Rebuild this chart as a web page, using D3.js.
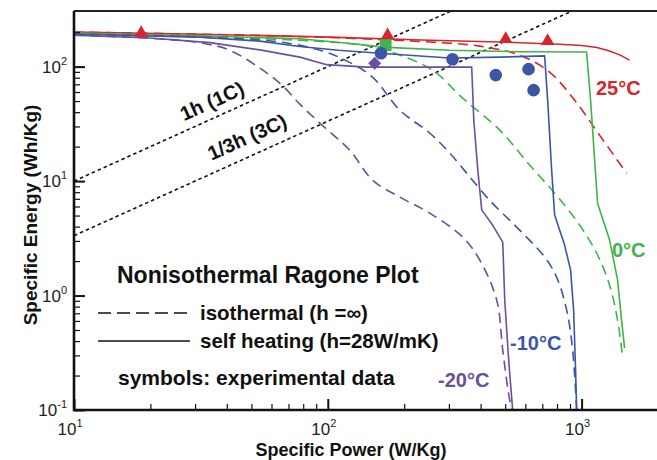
<!DOCTYPE html>
<html>
<head>
<meta charset="utf-8">
<script src="https://cdn.jsdelivr.net/npm/d3@7"></script>
<style>
  body { margin: 0; background: #fff; }
  text { font-family: "Liberation Sans", Arial, sans-serif; }
</style>
</head>
<body>
<svg id="ragone" width="657" height="460"></svg>
<script>
// data: [specific power W/Kg, specific energy Wh/Kg]
var red_iso = [[10,200],[49.3,188],[122,177],[252,164],[397,151],[570,126],[748,89.5],[938,51],[1177,25.2],[1504,11.7]];
var red_heat = [[10,200],[31.3,192],[102,181],[252,170],[476,164],[819,157],[1000,153],[1150,147],[1289,137],[1420,126],[1545,114]];
var green_iso = [[10,196],[49.3,177],[102,164],[146,151],[192,126],[259,93],[340,53],[476,27.9],[624,13.8],[797,7.5],[982,4.13],[1156,2.26],[1289,1.23],[1386,0.61],[1450,0.29]];
var green_heat = [[10,196],[31.3,186],[77.6,175],[120,160],[165,148],[302,139],[570,135],[1046,134],[1085,51],[1156,6.4],[1289,3.05],[1386,1.37],[1437,0.61],[1477,0.348]];
var blue_iso = [[10,192],[31.3,181],[64.7,164],[93,139],[117,114],[150,81],[192,41.7],[252,26.3],[302,17.6],[434,6.8],[570,3.73],[715,2.17],[797,1.45],[873,0.75],[922,0.334],[956,0.1]];
var blue_heat = [[10,192],[31.3,181],[54,167],[77.6,150],[110,139],[160,131],[302,119],[476,121],[715,124],[735,51],[762,12.5],[783,5.05],[857,2.76],[905,1.67],[930,0.75],[947,0.224],[956,0.1]];
var purple_iso = [[10,188],[19.9,177],[32.2,160],[41.1,139],[54,97],[65.9,69],[77.6,47],[93,32.1],[122,18.6],[150,10.2],[192,7.25],[252,5.25],[340,3.24],[397,2.04],[463,0.91],[489,0.334],[521,0.122],[535,0.1]];
var purple_heat = [[10,188],[19.9,178],[34.3,162],[54,140],[77.6,121],[99,104],[142,99],[369,99],[376,34.1],[390,12.5],[404,5.6],[446,4.13],[489,2.93],[498,0.91],[516,0.273],[535,0.1]];

var red_pts = [[18.4,196],[172,188],[502,174],[735,167]];
var green_pts = [[169,154]];
var blue_pts = [[162,131],[310,116],[459,84.3],[618,95],[647,62.3]];
var purple_pts = [[153,107]];

var temps = ["25°C", "0°C", "-10°C", "-20°C"];
var colors = ["#d7262b", "#3db54a", "#3c56a5", "#6b4fa0"];
var rate_hours = [1, 1/3];
var rate_labels = ["1h (1C)", "1/3h (3C)"];
var x_ticks = [10, 100, 1000];
var x_exps = ["1", "2", "3"];
var y_ticks = [0.1, 1, 10, 100];
var y_exps = ["-1", "0", "1", "2"];

var svg = d3.select("#ragone");

var x = d3.scaleLog().domain([10, 2000]).range([74, 658]),
  y = d3.scaleLog().domain([0.1, 300]).range([410, 12]);

svg.append("clipPath").attr("id", "plot-clip")
  .append("rect").attr("x", 74).attr("y", 11).attr("width", 584).attr("height", 399);

var plot = svg.append("g").attr("clip-path", "url(#plot-clip)");

var smooth = d3.line()
  .x(function (d) { return x(d[0]); })
  .y(function (d) { return y(d[1]); })
  .curve(d3.curveCatmullRom.alpha(0.5));
var straight = d3.line()
  .x(function (d) { return x(d[0]); })
  .y(function (d) { return y(d[1]); });

// constant-rate lines E = P * t
rate_hours.forEach(function (h) {
  plot.append("path")
    .datum([[10, 10 * h], [2000, 2000 * h]])
    .attr("d", straight)
    .attr("fill", "none")
    .attr("stroke", "#111")
    .attr("stroke-width", 1.6)
    .attr("stroke-dasharray", "3.5,3");
});

var series = [
  { iso: red_iso, heat: red_heat },
  { iso: green_iso, heat: green_heat },
  { iso: blue_iso, heat: blue_heat },
  { iso: purple_iso, heat: purple_heat }
];

series.forEach(function (s, i) {
  plot.append("path").datum(s.iso)
    .attr("d", smooth)
    .attr("fill", "none")
    .attr("stroke", colors[i])
    .attr("stroke-width", 1.6)
    .attr("stroke-dasharray", "10,6");
  plot.append("path").datum(s.heat)
    .attr("d", straight)
    .attr("fill", "none")
    .attr("stroke", colors[i])
    .attr("stroke-linejoin", "round")
    .attr("stroke-width", 1.6);
});

// experimental symbols
plot.selectAll(".tri").data(red_pts).enter().append("path")
  .attr("transform", function (d) { return "translate(" + x(d[0]) + "," + y(d[1]) + ")"; })
  .attr("d", d3.symbol().type(d3.symbolTriangle).size(80))
  .attr("fill", colors[0]);

plot.selectAll(".sq").data(green_pts).enter().append("path")
  .attr("transform", function (d) { return "translate(" + x(d[0]) + "," + y(d[1]) + ")"; })
  .attr("d", d3.symbol().type(d3.symbolSquare).size(140))
  .attr("fill", colors[1]);

plot.selectAll(".dot").data(blue_pts).enter().append("circle")
  .attr("cx", function (d) { return x(d[0]); })
  .attr("cy", function (d) { return y(d[1]); })
  .attr("r", 6.3)
  .attr("fill", colors[2]);

plot.selectAll(".dia").data(purple_pts).enter().append("path")
  .attr("transform", function (d) { return "translate(" + x(d[0]) + "," + y(d[1]) + ") rotate(45)"; })
  .attr("d", d3.symbol().type(d3.symbolSquare).size(85))
  .attr("fill", colors[3]);

// axes with inward ticks
var minor = function (dom) {
  var out = [];
  for (var e = Math.floor(Math.log10(dom[0])); e <= Math.ceil(Math.log10(dom[1])); e++) {
    for (var k = 2; k <= 9; k++) {
      var v = k * Math.pow(10, e);
      if (v > dom[0] && v < dom[1]) out.push(v);
    }
  }
  return out;
};

var gx = svg.append("g").attr("transform", "translate(0,410)");
gx.call(d3.axisBottom(x).tickValues(x_ticks).tickSize(-11).tickFormat(""));
gx.append("g").call(d3.axisBottom(x).tickValues(minor(x.domain())).tickSize(-6).tickFormat(""));
var gy = svg.append("g").attr("transform", "translate(74,0)");
gy.call(d3.axisLeft(y).tickValues(y_ticks).tickSize(-11).tickFormat(""));
gy.append("g").call(d3.axisLeft(y).tickValues(minor(y.domain())).tickSize(-6).tickFormat(""));
svg.selectAll(".domain").remove();
svg.selectAll(".tick line").attr("stroke", "#111").attr("stroke-width", 1.2);
gx.selectAll(":scope > .tick line").attr("stroke-width", 2);
gy.selectAll(":scope > .tick line").attr("stroke-width", 2);

// frame
svg.append("path").attr("d", "M74,11H657").attr("stroke", "#222").attr("stroke-width", 2);
svg.append("path").attr("d", "M74,11V410H657").attr("fill", "none").attr("stroke", "#111").attr("stroke-width", 2.6);

// tick labels
x_ticks.forEach(function (v, i) {
  var t = svg.append("text").attr("x", x(v) - 4).attr("y", 435)
    .attr("text-anchor", "middle").attr("font-size", 17).attr("fill", "#222");
  t.append("tspan").text("10");
  t.append("tspan").attr("dy", -8).attr("font-size", 11).text(x_exps[i]);
});
y_ticks.forEach(function (v, i) {
  var t = svg.append("text").attr("x", 67).attr("y", y(v) + 6)
    .attr("text-anchor", "end").attr("font-size", 17).attr("fill", "#222");
  t.append("tspan").text("10");
  t.append("tspan").attr("dy", -8).attr("font-size", 11).text(y_exps[i]);
});

// axis titles
svg.append("text").attr("x", 351).attr("y", 456).attr("text-anchor", "middle")
  .attr("font-size", 18).attr("font-weight", "bold").attr("fill", "#111")
  .text("Specific Power (W/Kg)");
svg.append("text").attr("transform", "translate(37,215) rotate(-90)").attr("text-anchor", "middle")
  .attr("font-size", 19).attr("font-weight", "bold").attr("fill", "#111")
  .text("Specific Energy (Wh/Kg)");

// rate line labels
var ang = -Math.atan((y(1) - y(10)) / (x(100) - x(10))) * 180 / Math.PI;
var rate_pos = [[212, 101], [247, 137]];
rate_labels.forEach(function (lbl, i) {
  svg.append("text")
    .attr("transform", "translate(" + rate_pos[i][0] + "," + rate_pos[i][1] + ") rotate(" + ang + ")")
    .attr("text-anchor", "middle").attr("dy", "0.35em")
    .attr("font-size", 20).attr("font-weight", "bold").attr("fill", "#111")
    .text(lbl);
});

// temperature labels
var temp_pos = [[596, 95], [612, 257], [510, 350], [438, 387]];
temps.forEach(function (t, i) {
  svg.append("text").attr("x", temp_pos[i][0]).attr("y", temp_pos[i][1])
    .attr("font-size", 20).attr("font-weight", "bold").attr("fill", colors[i])
    .text(t);
});

// legend
svg.append("text").attr("x", 117).attr("y", 283)
  .attr("font-size", 23).attr("font-weight", "bold").attr("fill", "#111")
  .text("Nonisothermal Ragone Plot");
svg.append("path").attr("d", "M98,313H190").attr("stroke", "#111").attr("stroke-width", 1.6)
  .attr("stroke-dasharray", "13,6");
svg.append("path").attr("d", "M98,341H190").attr("stroke", "#111").attr("stroke-width", 1.6);
svg.append("text").attr("x", 200).attr("y", 320)
  .attr("font-size", 20.5).attr("font-weight", "bold").attr("fill", "#111")
  .text("isothermal (h =∞)");
svg.append("text").attr("x", 200).attr("y", 348)
  .attr("font-size", 20.5).attr("font-weight", "bold").attr("fill", "#111")
  .text("self heating (h=28W/mK)");
svg.append("text").attr("x", 118).attr("y", 385)
  .attr("font-size", 21).attr("font-weight", "bold").attr("fill", "#111")
  .text("symbols: experimental data");
</script>
</body>
</html>
